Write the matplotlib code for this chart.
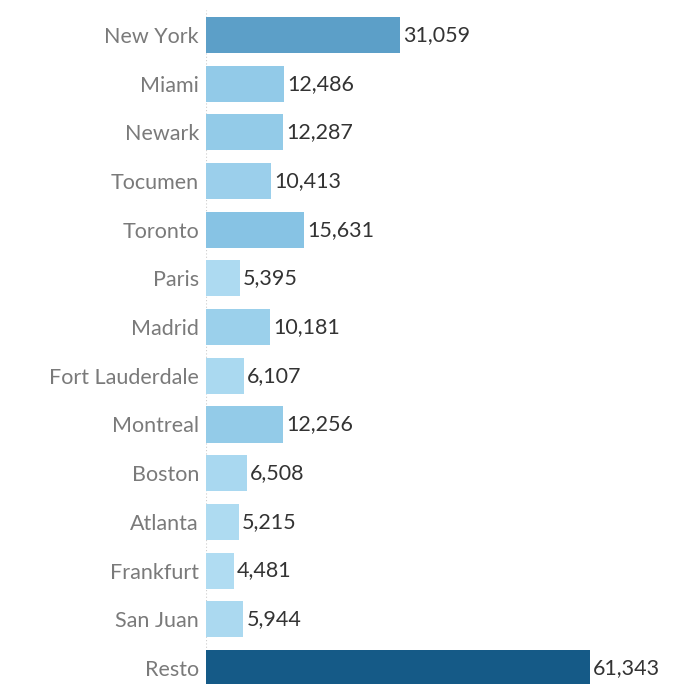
import matplotlib.pyplot as plt
import numpy as np
from matplotlib.colors import LinearSegmentedColormap, Normalize

cities = ['New York', 'Miami', 'Newark', 'Tocumen', 'Toronto', 'Paris', 'Madrid',
          'Fort Lauderdale', 'Montreal', 'Boston', 'Atlanta', 'Frankfurt',
          'San Juan', 'Resto']
values = [31059, 12486, 12287, 10413, 15631, 5395, 10181, 6107, 12256, 6508,
          5215, 4481, 5944, 61343]

cmap = LinearSegmentedColormap.from_list(
    'tab_blue', [(0, '#b0dcf2'), (0.2, '#86c3e4'), (0.47, '#5b9fc8'), (1, '#155a87')])
norm = Normalize(min(values), max(values))

fig = plt.figure(figsize=(6.82, 6.84), dpi=100)
ax = fig.add_axes([206 / 682, 0, 1 - 206 / 682, 1 - 10 / 684])

y = np.arange(len(cities))
ax.barh(y, values, height=0.74, color=cmap(norm(np.array(values))), zorder=2)

for yi, v in zip(y, values):
    ax.text(v + 500, yi, f'{v:,}', va='center', ha='left', fontsize=15.5,
            color='#333333', family='Lato')

ax.set_yticks(y)
ax.set_yticklabels(cities, fontsize=15.5, color='#7a7a7a', family='Lato')
ax.tick_params(axis='y', length=0, pad=5)
ax.set_xticks([])
ax.set_xlim(0, 476 / 384 * 61343)
ax.set_ylim(13.33, -0.513)
for s in ax.spines.values():
    s.set_visible(False)
ax.axvline(0, color='#cccccc', lw=0.8, ls=(0, (1, 2)), zorder=1)

fig.savefig('out.png', dpi=100)
